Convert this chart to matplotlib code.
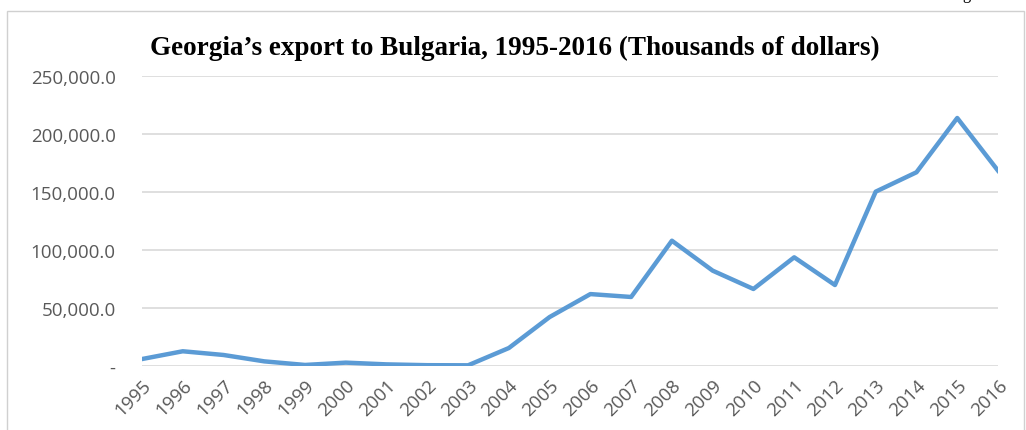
import matplotlib
matplotlib.use("Agg")
import matplotlib.pyplot as plt
from matplotlib.patches import Rectangle
from matplotlib.ticker import FuncFormatter

# data (thousands of dollars)
years = list(range(1995, 2017))
exports = [6000, 12700, 9500, 4000, 900, 2900, 1400, 700, 600, 15500,
           42200, 62000, 59500, 108000, 82200, 66400, 93700, 69800,
           150300, 167000, 213800, 168400]
y_ticks = [0, 50000, 100000, 150000, 200000, 250000]

title = "Georgia\u2019s export to Bulgaria, 1995-2016 (Thousands of dollars)"
line_color = "#5B9BD5"
text_gray = "#595959"
grid_gray = "#D9D9D9"

fig = plt.figure(figsize=(10.26, 4.31), dpi=100)
ax = fig.add_axes([142 / 1026, 1 - 367 / 431, (998 - 142) / 1026, (367 - 77) / 431])

# outer chart frame (as pasted from a document)
fig.patches.append(Rectangle((7 / 1026, -0.1), (1024 - 7) / 1026, 1.1 - 12 / 431,
                             transform=fig.transFigure, fill=False,
                             edgecolor="#D0D0D0", linewidth=1))
fig.text(0.925, 1.012, "Figure", fontsize=12, family="Liberation Serif",
         va="center", ha="left")

ax.plot(years, exports, color=line_color, linewidth=3.2, solid_joinstyle="round")

ax.set_xlim(years[0], years[-1])
ax.set_ylim(0, 250000)
ax.set_yticks(y_ticks)
ax.yaxis.set_major_formatter(FuncFormatter(lambda v, p: "-" if v == 0 else f"{v:,.1f}"))
ax.set_xticks(years)
ax.set_xticklabels([str(y) for y in years], rotation=45, ha="right",
                   rotation_mode="anchor")

for lab in ax.get_xticklabels() + ax.get_yticklabels():
    lab.set_family("Open Sans")
    lab.set_fontsize(13.5)
    lab.set_color(text_gray)

ax.tick_params(axis="y", length=0, pad=19)
ax.tick_params(axis="x", length=0, pad=7)
ax.grid(axis="y", color=grid_gray, linewidth=1.2)
ax.set_axisbelow(True)
for s in ax.spines.values():
    s.set_visible(False)

fig.text(515 / 1026, 1 - 48 / 431, title, family="Liberation Serif",
         fontweight="bold", fontsize=19.5, ha="center", va="center")

fig.savefig("out.png", dpi=100)
